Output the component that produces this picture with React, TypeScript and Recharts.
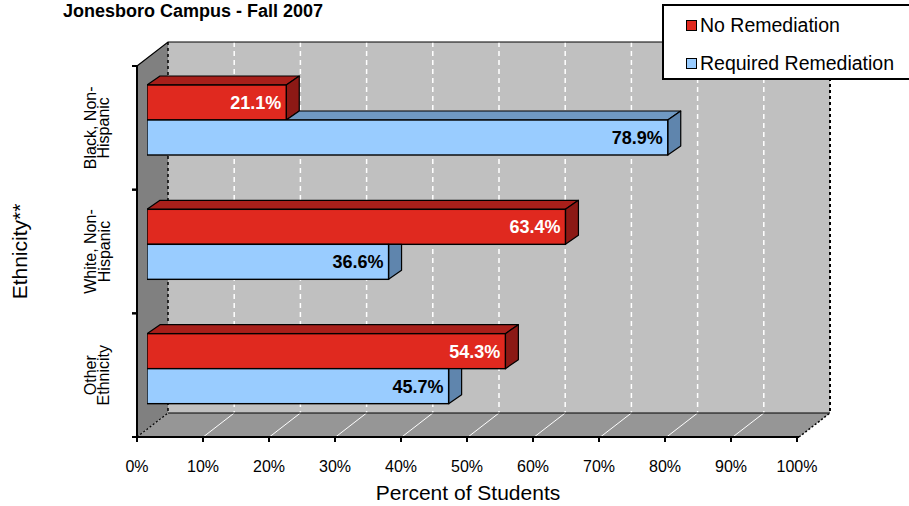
import React from 'react';
import { BarChart, Bar, XAxis, YAxis, ReferenceArea, LabelList } from 'recharts';

const categories = ['Black, Non-Hispanic', 'White, Non-Hispanic', 'Other Ethnicity'];
const categoryLines: Record<string, string[]> = {
  'Black, Non-Hispanic': ['Black, Non-', 'Hispanic'],
  'White, Non-Hispanic': ['White, Non-', 'Hispanic'],
  'Other Ethnicity': ['Other', 'Ethnicity'],
};
const noRemediation = [21.1, 63.4, 54.3];
const requiredRemediation = [78.9, 36.6, 45.7];
const percentTicks = [0, 10, 20, 30, 40, 50, 60, 70, 80, 90, 100];
const seriesNames = ['No Remediation', 'Required Remediation'];
const titleText = 'Jonesboro Campus - Fall 2007';
const xTitle = 'Percent of Students';
const yTitle = 'Ethnicity**';

const data = categories.map((cat, i) => ({
  cat,
  noRem: noRemediation[i],
  reqRem: requiredRemediation[i],
}));

const FONT = "'Liberation Sans', Arial, Helvetica, sans-serif";
const WALL_DX = 31;
const WALL_DY = 24;
const BAR_DX = 13;
const BAR_DY = 9;
const RED = { front: '#E0291F', top: '#A81F1A', side: '#8C1915' };
const BLUE = { front: '#99CCFF', top: '#7099C2', side: '#5F85AD' };

function Walls(props: any) {
  const { x, y, width, height } = props;
  if (x == null || width == null) return null;
  const bx0 = x;
  const bx1 = x + width;
  const by0 = y;
  const by1 = y + height - WALL_DY;
  const fx0 = x - WALL_DX;
  const fx1 = x + width - WALL_DX;
  const fy0 = y + WALL_DY;
  const fy1 = y + height;
  const n = percentTicks.length - 1;
  const step = width / n;
  const inner = percentTicks.slice(1, n);
  return (
    <g>
      <polygon points={`${fx0},${fy0} ${bx0},${by0} ${bx0},${by1} ${fx0},${fy1}`} fill="#808080" />
      <rect x={bx0} y={by0} width={width} height={by1 - by0} fill="#C0C0C0" />
      <polygon points={`${fx0},${fy1} ${bx0},${by1} ${bx1},${by1} ${fx1},${fy1}`} fill="#969696" />
      {inner.map((t, k) => (
        <line key={'b' + t} x1={bx0 + (k + 1) * step} y1={by0} x2={bx0 + (k + 1) * step} y2={by1}
          stroke="#FFFFFF" strokeWidth={1.5} strokeDasharray="5 4" />
      ))}
      {inner.map((t, k) => (
        <line key={'f' + t} x1={bx0 + (k + 1) * step} y1={by1} x2={fx0 + (k + 1) * step} y2={fy1}
          stroke="#FFFFFF" strokeWidth={1} />
      ))}
      <line x1={bx0} y1={by0} x2={bx0} y2={by1} stroke="#000" strokeWidth={1.5} strokeDasharray="3 3" />
      <line x1={bx1} y1={by0} x2={bx1} y2={by1} stroke="#000" strokeWidth={2} strokeDasharray="3 3" />
      <line x1={bx0} y1={by1} x2={bx1} y2={by1} stroke="#000" strokeWidth={1.2} />
      <polyline points={`${fx0},${fy0} ${bx0},${by0} ${bx1},${by0}`} fill="none" stroke="#000" strokeWidth={1.2} />
      <line x1={fx0} y1={fy1} x2={bx0} y2={by1} stroke="#000" strokeWidth={1.2} strokeDasharray="2 2" />
      <line x1={fx1} y1={fy1} x2={bx1} y2={by1} stroke="#000" strokeWidth={1.5} strokeDasharray="2 2" />
      <line x1={fx0} y1={fy1} x2={fx1} y2={fy1} stroke="#000" strokeWidth={2} />
      <line x1={fx0} y1={fy0} x2={fx0} y2={fy1} stroke="#000" strokeWidth={2} />
    </g>
  );
}

function RedShape(props: any) {
  const { x, y, width, height } = props;
  if (width == null || height == null) return null;
  return (
    <g>
      <polygon
        points={`${x},${y} ${x + BAR_DX},${y - BAR_DY} ${x + width + BAR_DX},${y - BAR_DY} ${x + width},${y}`}
        fill={RED.top} stroke="#000" strokeWidth={1.2} strokeLinejoin="round" />
      <polygon
        points={`${x + width},${y} ${x + width + BAR_DX},${y - BAR_DY} ${x + width + BAR_DX},${y + height - BAR_DY} ${x + width},${y + height}`}
        fill={RED.side} stroke="#000" strokeWidth={1.2} strokeLinejoin="round" />
      <rect x={x} y={y} width={width} height={height} fill={RED.front} stroke="#000" strokeWidth={1.4} />
    </g>
  );
}

function BlueShape(props: any) {
  const { x, y, width, height, payload } = props;
  if (width == null || height == null) return null;
  const redW = payload && payload.reqRem ? (width * payload.noRem) / payload.reqRem : 0;
  const showTop = redW < width;
  const sideCovered = redW >= width + BAR_DX;
  const sidePts = sideCovered
    ? `${x + width},${y} ${x + width + BAR_DX},${y} ${x + width + BAR_DX},${y + height - BAR_DY} ${x + width},${y + height}`
    : `${x + width},${y} ${x + width + BAR_DX},${y - BAR_DY} ${x + width + BAR_DX},${y + height - BAR_DY} ${x + width},${y + height}`;
  return (
    <g>
      {showTop && (
        <polygon
          points={`${x + redW},${y} ${x + redW + BAR_DX},${y - BAR_DY} ${x + width + BAR_DX},${y - BAR_DY} ${x + width},${y}`}
          fill={BLUE.top} stroke="#000" strokeWidth={1.2} strokeLinejoin="round" />
      )}
      <polygon points={sidePts} fill={BLUE.side} stroke="#000" strokeWidth={1.2} strokeLinejoin="round" />
      <rect x={x} y={y} width={width} height={height} fill={BLUE.front} stroke="#000" strokeWidth={1.4} />
    </g>
  );
}

function CatTick(props: any) {
  const { x, y, payload } = props;
  const half = payload && typeof payload.offset === 'number' && payload.offset > 0 ? payload.offset : 61.8;
  const lines = categoryLines[payload.value] || [String(payload.value)];
  const base1 = x - 41;
  const gap = 13.5;
  return (
    <g>
      <line x1={x - 5} y1={y - half} x2={x} y2={y - half} stroke="#000" strokeWidth={2} />
      <line x1={x - 5} y1={y + half} x2={x} y2={y + half} stroke="#000" strokeWidth={2} />
      {lines.map((ln, i) => (
        <text key={i} x={base1 + i * gap} y={y} transform={`rotate(-90, ${base1 + i * gap}, ${y})`}
          textAnchor="middle" fontFamily={FONT} fontSize={16} fill="#000">
          {ln}
        </text>
      ))}
    </g>
  );
}

function XTitle(props: any) {
  const vb = props.viewBox || { x: 137, y: 437, width: 693, height: 69 };
  return (
    <text x={vb.x + (vb.width - WALL_DX) / 2} y={vb.y + 63} textAnchor="middle"
      fontFamily={FONT} fontSize={21} fill="#000">
      {xTitle}
    </text>
  );
}

function YTitle(props: any) {
  const vb = props.viewBox || { x: 0, y: 42, width: 137, height: 395 };
  const cx = vb.x + 27;
  const cy = vb.y + WALL_DY + (vb.height - WALL_DY) / 2;
  return (
    <text x={cx} y={cy} transform={`rotate(-90, ${cx}, ${cy})`} textAnchor="middle"
      fontFamily={FONT} fontSize={21} fill="#000">
      {yTitle}
    </text>
  );
}

const fmt = (v: any) => `${Number(v).toFixed(1)}%`;

export default function App() {
  return (
    <div style={{ position: 'absolute', left: 0, top: 0, width: 909, height: 506, background: '#fff', overflow: 'hidden' }}>
      <BarChart
        width={909}
        height={506}
        data={data}
        layout="vertical"
        margin={{ top: 42, right: 79, bottom: 0, left: 0 }}
        barGap={0}
        barSize={35}
      >
        <XAxis
          xAxisId="front"
          type="number"
          domain={[0, 100]}
          allowDataOverflow
          ticks={percentTicks}
          interval={0}
          padding={{ left: 0, right: 33 }}
          height={69}
          axisLine={false}
          tickLine={{ stroke: '#000', strokeWidth: 2 }}
          tickSize={5}
          tickMargin={19}
          tickFormatter={(v: number) => `${v}%`}
          tick={{ fill: '#000', fontFamily: FONT, fontSize: 16 }}
          label={<XTitle />}
        />
        <XAxis xAxisId="wall" type="number" domain={[0, 100]} allowDataOverflow hide height={0} padding={{ left: WALL_DX, right: 0 }} />
        <XAxis xAxisId="bars" type="number" domain={[0, 100]} allowDataOverflow hide height={0} padding={{ left: 10, right: 23 }} />
        <YAxis
          yAxisId="front"
          type="category"
          dataKey="cat"
          width={137}
          padding={{ top: 24, bottom: 0 }}
          axisLine={false}
          tickLine={false}
          tickSize={0}
          tickMargin={0}
          interval={0}
          tick={<CatTick />}
          label={<YTitle />}
        />
        <YAxis yAxisId="wall" type="category" dataKey="cat" hide width={0} />
        <YAxis yAxisId="bars" type="category" dataKey="cat" hide width={0} padding={{ top: 16, bottom: 6 }} />
        <ReferenceArea xAxisId="wall" yAxisId="wall" x1={0} x2={100}
          shape={(p: any) => <Walls {...p} />} ifOverflow="visible" />
        <Bar xAxisId="bars" yAxisId="bars" dataKey="noRem" name={seriesNames[0]} fill={RED.front}
          isAnimationActive={false} shape={(p: any) => <RedShape {...p} />}>
          <LabelList dataKey="noRem" position="insideRight" offset={5} formatter={fmt}
            fill="#FFFFFF" fontFamily={FONT} fontSize={18} fontWeight="bold" />
        </Bar>
        <Bar xAxisId="bars" yAxisId="bars" dataKey="reqRem" name={seriesNames[1]} fill={BLUE.front}
          isAnimationActive={false} shape={(p: any) => <BlueShape {...p} />}>
          <LabelList dataKey="reqRem" position="insideRight" offset={5} formatter={fmt}
            fill="#000000" fontFamily={FONT} fontSize={18} fontWeight="bold" />
        </Bar>
      </BarChart>
      <div style={{ position: 'absolute', left: 63, top: 1, fontFamily: FONT, fontWeight: 'bold', fontSize: 18, lineHeight: '20px', color: '#000', whiteSpace: 'nowrap' }}>
        {titleText}
      </div>
      <div style={{ position: 'absolute', left: 662, top: 4, width: 252, height: 72, border: '2px solid #000', background: '#fff', fontFamily: FONT, fontSize: 19.5, color: '#000' }}>
        {seriesNames.map((nm, i) => (
          <div key={nm} style={{ position: 'absolute', left: 22, top: 8 + i * 38, height: 22, display: 'flex', alignItems: 'center', whiteSpace: 'nowrap' }}>
            <span style={{ display: 'inline-block', width: 9, height: 9, border: '1.5px solid #000', background: i === 0 ? RED.front : BLUE.front, marginRight: 3 }} />
            <span style={{ lineHeight: '22px' }}>{nm}</span>
          </div>
        ))}
      </div>
    </div>
  );
}
